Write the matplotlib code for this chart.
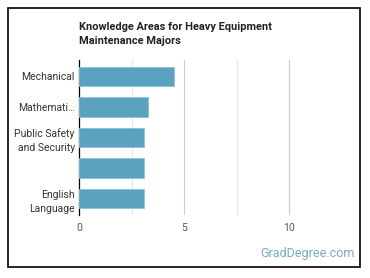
import matplotlib
matplotlib.use("Agg")
import matplotlib.pyplot as plt
from matplotlib.patches import Rectangle

categories = ["Mechanical", "Mathemati\u2026", "Public Safety\nand Security", "", "English\nLanguage"]
values = [4.5, 3.3, 3.1, 3.1, 3.1]
xticks = [0, 5, 10]
title = "Knowledge Areas for Heavy Equipment\nMaintenance Majors"

plt.rcParams['font.family'] = ['Roboto', 'DejaVu Sans']

W, H = 370, 278
fig = plt.figure(figsize=(W / 100, H / 100), dpi=100)
fig.patch.set_facecolor("white")

# outer frame
fig.add_artist(Rectangle((8 / W, 1 - 267 / H), 352 / W, 259 / H, transform=fig.transFigure,
                         fill=False, edgecolor="black", linewidth=1.2))

ax = fig.add_axes([79 / W, 1 - 215 / H, (339.6 - 79) / W, 155 / H])
ypos = list(range(len(categories)))
ax.barh(ypos, values, height=0.63, color="#5aa2bf", edgecolor="#8cc0d6", linewidth=0.6, zorder=3)
ax.set_ylim(len(categories) - 0.47, -0.53)
ax.set_xlim(0, 12.4)
ax.set_yticks(ypos)
ax.set_yticklabels(categories, fontsize=7.5, color="#333333", linespacing=1.5)
ax.set_xticks(xticks)
ax.set_xticklabels([str(t) for t in xticks], fontsize=7.5, color="#555555")
ax.set_xticks([2.5, 7.5], minor=True)
ax.tick_params(axis="both", length=0, pad=3)
ax.tick_params(axis="x", pad=6)
ax.tick_params(axis="x", which="minor", length=0)
ax.grid(axis="x", which="major", color="#cccccc", linewidth=0.8, zorder=0)
ax.grid(axis="x", which="minor", color="#e6e6e6", linewidth=0.8, zorder=0)
for s in ["top", "right", "bottom"]:
    ax.spines[s].set_visible(False)
ax.spines["left"].set_color("black")
ax.spines["left"].set_linewidth(0.9)

fig.text(79 / W, 1 - 22 / H, title, fontsize=7.9, fontweight="bold", color="#222222",
         ha="left", va="top", linespacing=1.55)
fig.text(355 / W, 1 - 254 / H, "GradDegree.com", fontsize=9, color="#7aaac2",
         ha="right", va="center")

fig.savefig("out.png", dpi=100)
